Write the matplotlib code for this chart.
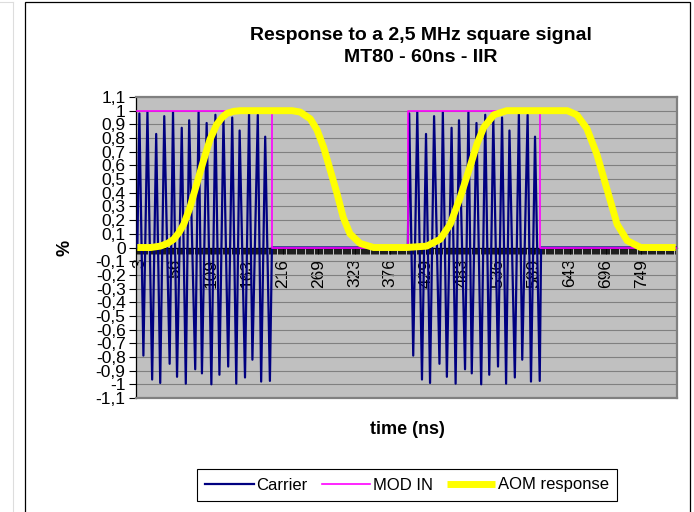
import matplotlib
matplotlib.use('Agg')
import matplotlib.pyplot as plt
from matplotlib.patches import Rectangle
from matplotlib.lines import Line2D
from matplotlib.ticker import MultipleLocator, FixedLocator
import numpy as np

plt.rcParams['font.family'] = ['Liberation Sans', 'DejaVu Sans']

# carrier, 1st burst: peaks and troughs (time in ns, value)
peak_t_1 = [3, 15, 28, 40, 53, 66, 77, 91, 103, 116, 128, 141, 152, 166, 179, 190]
peak_v_1 = [0.98, 0.99, 0.83, 0.96, 0.99, 0.875, 0.93, 0.99, 0.91, 0.97, 0.94, 0.95, 0.855, 0.98, 0.97, 0.81]
trough_t_1 = [9, 22, 34, 48, 59, 72, 86, 96, 110, 122, 135, 147, 160, 171, 184, 197]
trough_v_1 = [-0.79, -0.965, -0.99, -0.85, -0.945, -0.995, -0.89, -0.92, -1.0, -0.93, -0.87, -0.995, -0.95, -0.82, -0.98, -0.975]

# carrier, 2nd burst
peak_t_2 = [404, 416, 429, 441, 454, 467, 478, 492, 504, 517, 529, 542, 553, 567, 580, 591]
peak_v_2 = [0.98, 0.99, 0.83, 0.96, 0.99, 0.875, 0.93, 0.99, 0.91, 0.97, 0.94, 0.95, 0.855, 0.98, 0.97, 0.81]
trough_t_2 = [410, 423, 435, 449, 460, 473, 487, 497, 511, 523, 536, 548, 561, 572, 585, 598]
trough_v_2 = [-0.79, -0.965, -0.99, -0.85, -0.945, -0.995, -0.89, -0.92, -1.0, -0.93, -0.87, -0.995, -0.95, -0.82, -0.98, -0.975]

# MOD IN square signal
mod_t = [0, 200, 200, 402, 402, 599, 599, 800]
mod_v = [1, 1, 0, 0, 1, 1, 0, 0]

# AOM response
aom_t = [0, 20, 34, 45, 54, 62, 69, 78, 88, 98, 108, 118, 126, 133, 143, 153, 200,
         230, 242, 257, 267, 277, 287, 297, 306, 316, 331, 351, 400,
         430, 450, 465, 480, 495, 505, 515, 530, 549, 600,
         639, 653, 668, 683, 693, 703, 713, 728, 748, 800]
aom_v = [0.0, 0.0, 0.01, 0.03, 0.06, 0.11, 0.17, 0.29, 0.46, 0.63, 0.79, 0.90, 0.95, 0.98, 0.995, 1.0, 1.0,
         1.0, 0.99, 0.94, 0.86, 0.73, 0.56, 0.39, 0.22, 0.10, 0.03, 0.0, 0.0,
         0.01, 0.06, 0.17, 0.37, 0.60, 0.76, 0.88, 0.97, 1.0, 1.0,
         1.0, 0.97, 0.87, 0.68, 0.51, 0.34, 0.17, 0.05, 0.0, 0.0]

x_labels = ['3', '56', '109', '163', '216', '269', '323', '376', '429', '483',
            '536', '589', '643', '696', '749']


def zigzag(pt, pv, tt, tv):
    t = np.ravel(np.column_stack([pt, tt]))
    v = np.ravel(np.column_stack([pv, tv]))
    return t, v


t1, v1 = zigzag(peak_t_1, peak_v_1, trough_t_1, trough_v_1)
t2, v2 = zigzag(peak_t_2, peak_v_2, trough_t_2, trough_v_2)
car_t = np.concatenate([[0], t1, [200, 402], t2, [600, 800]])
car_v = np.concatenate([[0], v1, [0, 0], v2, [0, 0]])

W, H = 694, 512
fig = plt.figure(figsize=(W / 100, H / 100), dpi=100)
fig.patch.set_facecolor('white')

# outer chart frame
fig.add_artist(Rectangle((25 / W, -0.01), (690 - 25) / W, 1 - 2 / H + 0.01,
                         transform=fig.transFigure, fill=False, edgecolor='black', lw=0.9))
fig.add_artist(Line2D([13 / W, 13 / W], [0, 1 - 2 / H], transform=fig.transFigure,
                      color='#dddddd', lw=0.8))
fig.add_artist(Line2D([0, 13 / W], [1 - 2 / H, 1 - 2 / H], transform=fig.transFigure,
                      color='#dddddd', lw=0.8))

ax = fig.add_axes([136 / W, (H - 398) / H, (677 - 136) / W, (398 - 97) / H])
ax.set_facecolor('#c0c0c0')

# x axis crosses at 0 (set before ticks: set_position resets them)
ax.spines['bottom'].set_position(('data', 0))
ax.spines['bottom'].set_color('black')
ax.spines['bottom'].set_linewidth(0.9)
ax.spines['bottom'].set_zorder(2)
ax.spines['left'].set_color('black')
ax.spines['left'].set_linewidth(0.9)
for s in ['top', 'right']:
    ax.spines[s].set_color('#808080')
    ax.spines[s].set_linewidth(1.6)

l_car, = ax.plot(car_t, car_v, color='#000080', lw=1.6, zorder=3)
l_mod, = ax.plot(mod_t, mod_v, color='#ff00ff', lw=1.2, zorder=4)
l_aom, = ax.plot(aom_t, aom_v, color='#ffff00', lw=5, zorder=5,
                 solid_capstyle='butt', solid_joinstyle='round')

ax.set_xlim(-2, 802)
ax.set_ylim(-1.1, 1.1)

yt = np.round(np.arange(-11, 12) / 10, 1)
ax.yaxis.set_major_locator(FixedLocator(yt))


def fmt(v):
    s = ('%.1f' % v).replace('.', ',')
    if s.endswith(',0'):
        s = s[:-2]
    if s == '-0':
        s = '0'
    return s


ax.set_yticklabels([fmt(v) for v in yt], fontsize=12.5)
ax.yaxis.grid(True, color='#808080', lw=0.8)
ax.set_axisbelow(True)
ax.tick_params(axis='y', direction='out', length=5, width=0.8, pad=2.5, color='black')

ax.set_xticks([int(s) for s in x_labels])
ax.set_xticklabels(x_labels, rotation=90, fontsize=12.5)
ax.xaxis.set_minor_locator(MultipleLocator(5 / 3))
ax.tick_params(axis='x', which='both', direction='out', length=4, width=0.6, pad=4, color='black')

ax.axhline(-1.1, color='#808080', lw=1.6, clip_on=False, zorder=6)

fig.text(421 / W, 1 - 40 / H, 'Response to a 2,5 MHz square signal', ha='center', va='baseline',
         fontsize=14, fontweight='bold')
fig.text(421 / W, 1 - 61.5 / H, 'MT80 - 60ns - IIR', ha='center', va='baseline',
         fontsize=14, fontweight='bold')
fig.text(407 / W, 1 - 429 / H, 'time (ns)', ha='center', va='center', fontsize=13, fontweight='bold')
fig.text(65 / W, 1 - 248 / H, '%', ha='center', va='center', rotation=90, fontsize=13, fontweight='bold')

leg = fig.legend([l_car, l_mod, l_aom], ['Carrier', 'MOD IN', 'AOM response'],
                 loc='center', bbox_to_anchor=(197 / W, 1 - 503 / H, 420 / W, 36 / H),
                 mode='expand', ncol=3, fancybox=False, edgecolor='black', framealpha=1,
                 fontsize=12, handlelength=2.9, handletextpad=0.15, borderaxespad=0,
                 borderpad=0.5)
leg.get_frame().set_linewidth(0.8)

fig.savefig('out.png', dpi=100)
